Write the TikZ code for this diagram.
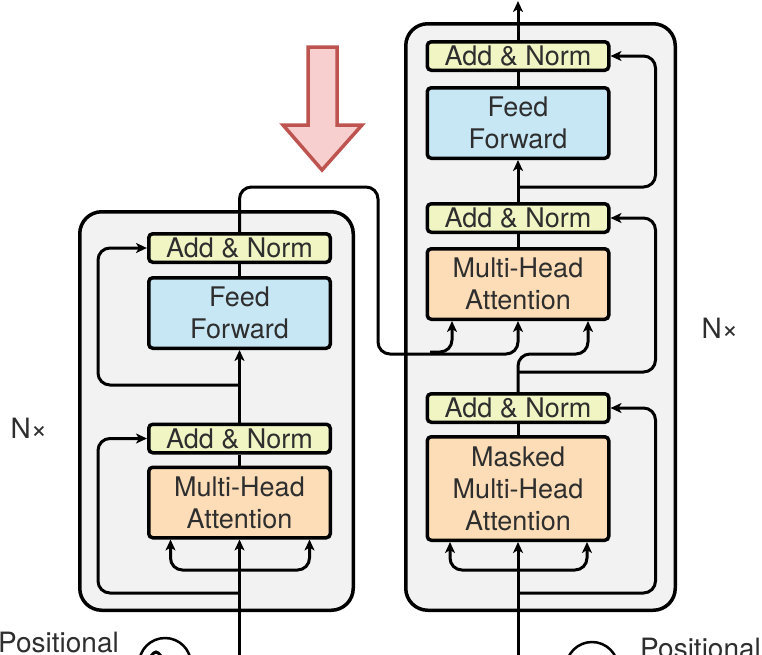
\documentclass[tikz,border=0pt]{standalone}
\usepackage{fontspec}
\setmainfont{TeX Gyre Heros}
\usetikzlibrary{arrows.meta,calc}
\definecolor{bgbox}{HTML}{F2F2F2}
\definecolor{yel}{HTML}{F1F4C3}
\definecolor{blu}{HTML}{C7E7F5}
\definecolor{org}{HTML}{FCDDB7}
\definecolor{txt}{HTML}{2E2E2E}
\definecolor{redline}{HTML}{BE5450}
\definecolor{redfill}{HTML}{F8CFCF}
\begin{document}
\begin{tikzpicture}[x=1pt,y=-1pt,
  outerbox/.style={draw, line width=3.5pt, fill=bgbox, rounded corners=22pt, inner sep=0pt},
  blk/.style={draw, line width=3.5pt, rounded corners=4pt, text=txt, font=\fontsize{27}{32}\selectfont, align=center, inner sep=0pt},
  an/.style={blk, fill=yel, minimum width=181.5pt, minimum height=28.5pt},
  ffb/.style={blk, fill=blu, minimum width=181.5pt, minimum height=70.5pt},
  att/.style={blk, fill=org, minimum width=181.5pt, minimum height=70.5pt},
  lbl/.style={text=txt, font=\fontsize{28}{32}\selectfont, inner sep=0pt},
  conn/.style={line width=3pt, rounded corners=12pt},
  arr/.style={conn, -{Stealth[length=11pt,width=10pt,inset=3pt]}}
]
\useasboundingbox (0,0) rectangle (762,654);
\clip (0,0) rectangle (762,654);

% containers
\node[outerbox, minimum width=273.5pt, minimum height=398.5pt] (enc) at (216.5,411) {};
\node[outerbox, minimum width=269.5pt, minimum height=586.5pt] (dec) at (540.5,317) {};

% encoder blocks
\node[an] (eAN2) at (239.5,248) {Add \& Norm};
\node[ffb] (eFF) at (239.5,313) {Feed\\Forward};
\node[an] (eAN1) at (239.5,438.5) {Add \& Norm};
\node[att] (eMHA) at (239.5,502.5) {Multi-Head\\Attention};

% decoder blocks
\node[an] (dAN3) at (518,56) {Add \& Norm};
\node[ffb] (dFF) at (518,123) {Feed\\Forward};
\node[an] (dAN2) at (518,218) {Add \& Norm};
\node[att] (dMHA) at (518,284) {Multi-Head\\Attention};
\node[an] (dAN1) at (518,408) {Add \& Norm};
\node[att, minimum height=103.5pt] (dMMHA) at (518,488.5) {Masked\\Multi-Head\\Attention};

% labels
\node[lbl] (nxl) at (29,428) {N×};
\node[lbl] (nxr) at (720,328) {N×};
\node[lbl, anchor=base east] (posl) at (119,652) {Positional};
\node[lbl, anchor=base west] (posr) at (640,658) {Positional};

% positional encoding circles
\node[draw, line width=2.5pt, circle, minimum size=52pt, inner sep=0pt] (pcl) at (165,664) {};
\node[draw, line width=2.5pt, circle, minimum size=52pt, inner sep=0pt] (pcr) at (592,668) {};
\draw[line width=3pt] ($(pcl.center)+(-18,0)$) sin ++(9,-12) cos ++(9,12) sin ++(9,12) cos ++(9,-12);

% coordinates
\coordinate (eIn) at (239.5,670);
\coordinate (eBr) at (239.5,570);
\coordinate (eR1) at (239.5,593);
\coordinate (eR2) at (239.5,385);
\coordinate (dIn) at (518,670);
\coordinate (dBr) at (518,570);
\coordinate (dR1) at (518,593);
\coordinate (dR2) at (518,372);
\coordinate (dR3) at (518,187);
\coordinate (dOut) at (518,1);
\coordinate (xBr) at (430,352);

% encoder connectors
\draw[arr] (eIn) -- (eMHA.south);
\draw[arr] (eBr) -| ([xshift=-69pt]eMHA.south);
\draw[arr] (eBr) -| ([xshift=70pt]eMHA.south);
\draw[arr] (eR1) -| ([xshift=-49pt]eAN1.west) -- (eAN1.west);
\draw[conn] (eMHA.north) -- (eAN1.south);
\draw[arr] (eAN1.north) -- (eFF.south);
\draw[arr] (eR2) -| ([xshift=-49pt]eAN2.west) -- (eAN2.west);
\draw[conn] (eFF.north) -- (eAN2.south);

% encoder to decoder
\draw[arr] (eAN2.north) |- (378,187) |- ($(dMHA.south)+(0,33)$) -- (dMHA.south);
\draw[arr] (xBr) -| ([xshift=-66pt]dMHA.south);

% decoder connectors
\draw[arr] (dIn) -- (dMMHA.south);
\draw[arr] (dBr) -| ([xshift=-68pt]dMMHA.south);
\draw[arr] (dBr) -| ([xshift=69pt]dMMHA.south);
\draw[arr] (dR1) -| ([xshift=45pt]dAN1.east) -- (dAN1.east);
\draw[conn] (dMMHA.north) -- (dAN1.south);
\draw[arr] (dAN1.north) |- ($(dMHA.south)+(70,33)$) -- ([xshift=70pt]dMHA.south);
\draw[arr] (dR2) -| ([xshift=45pt]dAN2.east) -- (dAN2.east);
\draw[conn] (dMHA.north) -- (dAN2.south);
\draw[arr] (dAN2.north) -- (dFF.south);
\draw[arr] (dR3) -| ([xshift=45pt]dAN3.east) -- (dAN3.east);
\draw[conn] (dFF.north) -- (dAN3.south);
\draw[arr] (dAN3.north) -- (dOut);

% red arrow
\draw[line width=3.5pt, draw=redline, fill=redfill, line join=miter]
  (308,47) -- (337,47) -- (337,125) -- (362,125) -- (322,170) -- (283,125) -- (308,125) -- cycle;
\end{tikzpicture}
\end{document}
